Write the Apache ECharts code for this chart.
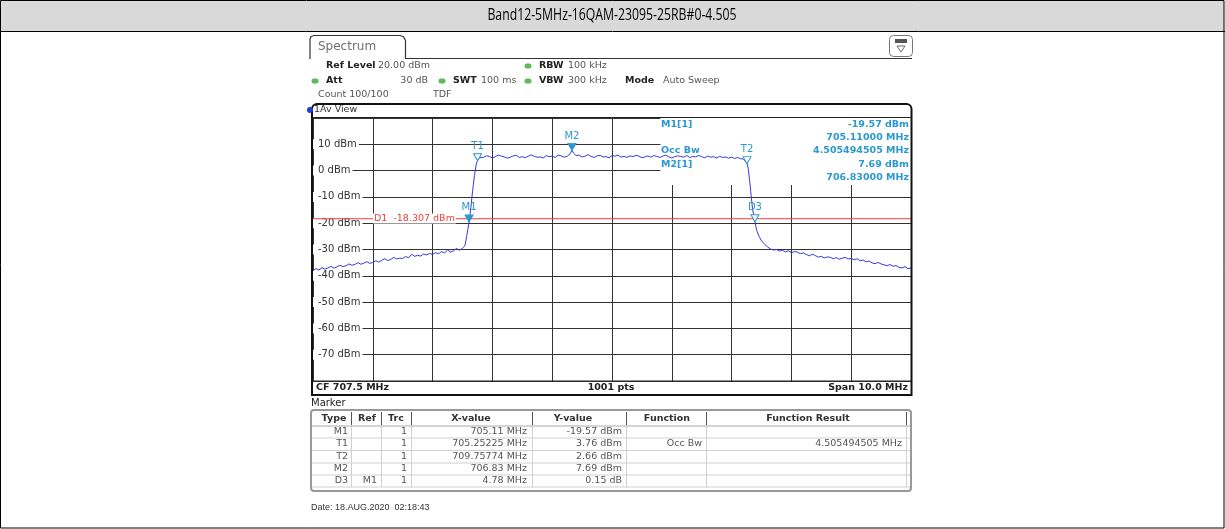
<!DOCTYPE html>
<html>
<head>
<meta charset="utf-8">
<script src="https://cdn.jsdelivr.net/npm/echarts@6/dist/echarts.min.js"></script>
<style>
  html, body { margin: 0; padding: 0; background: #fff; }
  #chart { width: 1225px; height: 529px; }
</style>
</head>
<body>
<div id="chart"></div>
<script>
// ---- data ----
const titleText = 'Band12-5MHz-16QAM-23095-25RB#0-4.505';

// trace 1 (average), frequency in MHz
const traceFreq = [
  702.50, 702.55, 702.60, 702.65, 702.70, 702.75, 702.80, 702.85, 702.90, 702.95,
  703.00, 703.05, 703.10, 703.15, 703.20, 703.25, 703.30, 703.35, 703.40, 703.45,
  703.50, 703.55, 703.60, 703.65, 703.70, 703.75, 703.80, 703.85, 703.90, 703.95,
  704.00, 704.05, 704.10, 704.15, 704.20, 704.25, 704.30, 704.35, 704.40, 704.45,
  704.50, 704.55, 704.60, 704.65, 704.70, 704.75, 704.80, 704.85, 704.90, 704.95,
  705.00, 705.04, 705.07, 705.09, 705.11, 705.14, 705.17, 705.20, 705.23, 705.25,
  705.28, 705.30,
  705.35, 705.40, 705.45, 705.50, 705.55, 705.60, 705.65, 705.70, 705.75, 705.80,
  705.85, 705.90, 705.95, 706.00, 706.05, 706.10, 706.15, 706.20, 706.25, 706.30,
  706.35, 706.40, 706.45, 706.50, 706.55, 706.60, 706.65, 706.70, 706.75, 706.80,
  706.83, 706.86, 706.90, 706.95, 707.00, 707.05, 707.10, 707.15, 707.20, 707.25,
  707.30, 707.35, 707.40, 707.45, 707.50, 707.55, 707.60, 707.65, 707.70, 707.75,
  707.80, 707.85, 707.90, 707.95, 708.00, 708.05, 708.10, 708.15, 708.20, 708.25,
  708.30, 708.35, 708.40, 708.45, 708.50, 708.55, 708.60, 708.65, 708.70, 708.75,
  708.80, 708.85, 708.90, 708.95, 709.00, 709.05, 709.10, 709.15, 709.20, 709.25,
  709.30, 709.35, 709.40, 709.45, 709.50, 709.55, 709.60, 709.65,
  709.70, 709.73, 709.76, 709.78, 709.80, 709.82, 709.85, 709.89, 709.92, 709.96,
  710.00, 710.05, 710.10, 710.15, 710.20, 710.25, 710.30, 710.35, 710.40, 710.45,
  710.50, 710.55, 710.60, 710.65, 710.70, 710.75, 710.80, 710.85, 710.90, 710.95,
  711.00, 711.05, 711.10, 711.15, 711.20, 711.25, 711.30, 711.35, 711.40, 711.45,
  711.50, 711.55, 711.60, 711.65, 711.70, 711.75, 711.80, 711.85, 711.90, 711.95,
  712.00, 712.05, 712.10, 712.15, 712.20, 712.25, 712.30, 712.35, 712.40, 712.45,
  712.50
];
// level in dBm
const traceLevel = [
  -37.9, -37.3, -37.8, -36.9, -37.5, -37.0, -36.4, -37.1, -36.6, -36.0,
  -36.5, -36.2, -35.5, -36.0, -35.7, -35.0, -35.6, -35.2, -34.6, -35.3,
  -34.9, -34.3, -34.8, -34.1, -33.5, -34.2, -33.8, -33.0, -33.6, -33.3,
  -33.4, -32.7, -33.1, -31.8, -32.6, -32.2, -32.5, -31.7, -32.1, -31.5,
  -31.9, -31.2, -31.6, -30.8, -31.3, -30.2, -31.0, -30.5, -29.6, -30.3,
  -29.5, -28.6, -25.0, -22.3, -19.57, -14.0, -7.5, -1.8, 2.4, 3.76,
  4.9, 5.4,
  5.0, 5.6, 5.4, 4.8, 5.3, 5.9, 5.5, 5.2, 4.7, 5.1,
  5.6, 5.8, 5.0, 5.3, 4.9, 5.5, 6.0, 5.4, 5.1, 5.2,
  4.8, 5.7, 5.3, 5.5, 5.0, 5.9, 5.6, 5.1, 5.4, 6.4,
  7.69, 6.6, 5.7, 5.9, 5.2, 5.5, 6.1, 5.4, 5.0, 5.6,
  5.8, 5.2, 5.3, 4.9, 5.7, 5.5, 5.9, 5.1, 5.4, 5.0,
  5.6, 5.3, 5.8, 5.5, 4.9, 5.2, 5.6, 5.1, 5.7, 5.4,
  5.0, 5.5, 5.9, 5.2, 4.8, 5.3, 5.6, 5.4, 5.1, 5.7,
  5.0, 5.4, 5.2, 5.8, 5.3, 4.9, 5.5, 5.1, 5.3, 4.8,
  5.4, 5.0, 5.2, 4.7, 5.1, 4.6, 5.0, 4.5,
  4.4, 3.8, 2.66, 0.5, -3.5, -8.0, -14.5, -19.42, -22.8, -25.0,
  -26.7, -28.0, -29.0, -29.8, -30.2, -30.0, -30.6, -30.3, -30.9, -30.5,
  -31.2, -30.8, -31.0, -31.6, -31.3, -31.9, -32.4, -31.8, -32.3, -32.9,
  -32.6, -33.2, -32.8, -33.0, -33.5, -33.1, -33.7, -33.3, -33.0, -33.6,
  -33.4, -33.9, -33.5, -34.3, -34.0, -34.7, -34.4, -35.1, -35.4, -34.9,
  -35.5, -35.8, -36.2, -35.7, -36.4, -36.1, -36.8, -37.0, -36.5, -37.3,
  -37.0
];

// markers
const markerNames = ['M1', 'T1', 'T2', 'M2', 'D3'];
const markerFreq = [705.11, 705.25225, 709.75774, 706.83, 709.89];
const markerLevel = [-19.57, 3.76, 2.66, 7.69, -19.42];
const markerHollow = [false, true, true, false, true];

const displayLine = -18.307;
const startFreq = 702.5;
const stopFreq = 712.5;
const refLevel = 20;
const bottomLevel = -80;

// marker table
const tableType = ['M1', 'T1', 'T2', 'M2', 'D3'];
const tableRef = ['', '', '', '', 'M1'];
const tableTrc = ['1', '1', '1', '1', '1'];
const tableX = ['705.11 MHz', '705.25225 MHz', '709.75774 MHz', '706.83 MHz', '4.78 MHz'];
const tableY = ['-19.57 dBm', '3.76 dBm', '2.66 dBm', '7.69 dBm', '0.15 dB'];
const tableFunc = ['', 'Occ Bw', '', '', ''];
const tableResult = ['', '4.505494505 MHz', '', '', ''];

// ---- drawing ----
const FONT = 'DejaVu Sans';
const MK = '#2b98cf';
const chart = echarts.init(document.getElementById('chart'));

function txt(x, y, text, o) {
  o = o || {};
  return {
    type: 'text', x: x, y: y, z: o.z || 20, scaleX: o.sx || 1,
    style: {
      text: text,
      fill: o.color || '#444',
      font: (o.bold ? 'bold ' : '') + (o.size || 9.5) + 'px ' + (o.family || FONT),
      align: o.align || 'left',
      verticalAlign: 'middle',
      backgroundColor: o.bg,
      padding: o.pad
    }
  };
}
function line(x1, y1, x2, y2, color, w) {
  return {
    type: 'line', z: 15,
    shape: { x1: x1, y1: y1, x2: x2, y2: y2 },
    style: { stroke: color, lineWidth: w || 1 }
  };
}
function dot(x, y, color) {
  return {
    type: 'rect', z: 20,
    shape: { x: x - 3.5, y: y - 2.5, width: 7, height: 5, r: 2.5 },
    style: { fill: color }
  };
}

const g = [];
// outer table cell with grey title row
g.push({ type: 'rect', z: 1, shape: { x: 0.5, y: 0.5, width: 1223.5, height: 31 }, style: { fill: '#d9d9d9' } });
g.push({ type: 'rect', z: 3, shape: { x: 0.5, y: 0.5, width: 1223.5, height: 527.5 }, style: { fill: 'none', stroke: '#000', lineWidth: 1 } });
g.push(line(0, 31.5, 1225, 31.5, '#000', 1));
g.push(txt(612, 16, titleText, { size: 15.5, color: '#000', align: 'center', sx: 0.79, family: "'Open Sans', sans-serif" }));

// spectrum tab
g.push({
  type: 'polyline', z: 15,
  shape: { points: [[310, 59], [310, 39], [311, 36.5], [314, 35.5], [400, 35.5], [403.5, 36.8], [405.5, 40.5], [405.5, 58.5], [912, 58.5]] },
  style: { fill: 'none', stroke: '#333', lineWidth: 1.2 }
});
g.push(txt(318, 47, 'Spectrum', { size: 12, color: '#707070' }));
// top-right icon
g.push({ type: 'rect', z: 15, shape: { x: 889.5, y: 35.5, width: 23, height: 21, r: 4 }, style: { fill: '#fff', stroke: '#777', lineWidth: 1 } });
g.push({ type: 'rect', z: 16, shape: { x: 895, y: 39, width: 12, height: 4 }, style: { fill: '#555' } });
g.push({ type: 'polygon', z: 16, shape: { points: [[897, 46], [905, 46], [901, 52]] }, style: { fill: 'none', stroke: '#666', lineWidth: 1 } });

// settings header
g.push(txt(326, 66, 'Ref Level', { bold: true, color: '#222' }));
g.push(txt(378, 66, '20.00 dBm', { color: '#555' }));
g.push(dot(528, 66, '#5fb85a'));
g.push(txt(539, 66, 'RBW', { bold: true, color: '#222' }));
g.push(txt(568, 66, '100 kHz', { color: '#555' }));
g.push(dot(315, 81, '#5fb85a'));
g.push(txt(326, 81, 'Att', { bold: true, color: '#222' }));
g.push(txt(428, 81, '30 dB', { color: '#555', align: 'right' }));
g.push(dot(442, 81, '#5fb85a'));
g.push(txt(453, 81, 'SWT', { bold: true, color: '#222' }));
g.push(txt(481, 81, '100 ms', { color: '#555' }));
g.push(dot(528, 81, '#5fb85a'));
g.push(txt(539, 81, 'VBW', { bold: true, color: '#222' }));
g.push(txt(568, 81, '300 kHz', { color: '#555' }));
g.push(txt(625, 81, 'Mode', { bold: true, color: '#222' }));
g.push(txt(663, 81, 'Auto Sweep', { color: '#555' }));
g.push(txt(318, 95, 'Count 100/100', { color: '#555' }));
g.push(txt(433, 95, 'TDF', { color: '#555' }));

// diagram frame
g.push({ type: 'rect', z: 15, shape: { x: 312, y: 104, width: 599.5, height: 291, r: [5, 5, 0, 0] }, style: { fill: 'none', stroke: '#111', lineWidth: 2 } });
g.push(line(312, 117.5, 911, 117.5, '#222', 1));
g.push({ type: 'circle', z: 20, shape: { cx: 310, cy: 110, r: 3 }, style: { fill: '#1a3fd8' } });
g.push(txt(314, 110, '1Av View', { size: 9.5, color: '#333' }));
g.push(line(312, 381, 911, 381, '#222', 1));
g.push(txt(316, 388, 'CF 707.5 MHz', { bold: true, color: '#222' }));
g.push(txt(611, 388, '1001 pts', { bold: true, color: '#222', align: 'center' }));
g.push(txt(908, 388, 'Span 10.0 MHz', { bold: true, color: '#222', align: 'right' }));

// marker info field
g.push(txt(661, 125, 'M1[1]', { bold: true, color: MK }));
g.push(txt(661, 151, 'Occ Bw', { bold: true, color: MK }));
g.push(txt(661, 165, 'M2[1]', { bold: true, color: MK }));
g.push(txt(909, 125, '-19.57 dBm', { bold: true, color: MK, align: 'right' }));
g.push(txt(909, 138, '705.11000 MHz', { bold: true, color: MK, align: 'right' }));
g.push(txt(909, 151, '4.505494505 MHz', { bold: true, color: MK, align: 'right' }));
g.push(txt(909, 165, '7.69 dBm', { bold: true, color: MK, align: 'right' }));
g.push(txt(909, 178, '706.83000 MHz', { bold: true, color: MK, align: 'right' }));

// display line label
g.push(txt(373, 218.5, 'D1  -18.307 dBm', { color: '#e8463c', bg: '#fff', pad: [0, 1] }));

// marker table
g.push(txt(311, 403, 'Marker', { size: 10, color: '#222' }));
g.push({ type: 'rect', z: 15, shape: { x: 311, y: 410, width: 600, height: 81, r: 3 }, style: { fill: 'none', stroke: '#999', lineWidth: 2 } });
const colX = [351.5, 381.5, 411.5, 532.5, 626.5, 706.5, 906.5];
colX.forEach(function (x) {
  g.push(line(x, 412, x, 425, '#555', 1));
  g.push(line(x, 426, x, 487, '#d0d0d0', 1));
});
g.push(line(312, 426, 910, 426, '#aaa', 1));
[438, 450.5, 463, 475, 487].forEach(function (y) { g.push(line(312, y, 910, y, '#d0d0d0', 1)); });
g.push(txt(334, 419, 'Type', { bold: true, color: '#333', align: 'center' }));
g.push(txt(367, 419, 'Ref', { bold: true, color: '#333', align: 'center' }));
g.push(txt(396, 419, 'Trc', { bold: true, color: '#333', align: 'center' }));
g.push(txt(471, 419, 'X-value', { bold: true, color: '#333', align: 'center' }));
g.push(txt(573, 419, 'Y-value', { bold: true, color: '#333', align: 'center' }));
g.push(txt(667, 419, 'Function', { bold: true, color: '#333', align: 'center' }));
g.push(txt(808, 419, 'Function Result', { bold: true, color: '#333', align: 'center' }));
const rowY = [432, 444, 456.5, 469, 481];
tableType.forEach(function (t, i) {
  const y = rowY[i];
  const o = { color: '#555', align: 'right' };
  g.push(txt(348, y, t, o));
  if (tableRef[i]) g.push(txt(377, y, tableRef[i], o));
  g.push(txt(407, y, tableTrc[i], o));
  g.push(txt(527, y, tableX[i], o));
  g.push(txt(622, y, tableY[i], o));
  if (tableFunc[i]) g.push(txt(702, y, tableFunc[i], o));
  if (tableResult[i]) g.push(txt(902, y, tableResult[i], o));
});

g.push(txt(311, 508, 'Date: 18.AUG.2020  02:18:43', { size: 9, color: '#333', family: "'Liberation Sans', Arial, sans-serif" }));

const option = {
  animation: false,
  backgroundColor: '#fff',
  grid: { left: 313, right: 314, top: 118, bottom: 148, show: false },
  xAxis: [
    { type: 'value', min: startFreq, max: stopFreq, show: false },
    {
      type: 'value', min: 0, max: 10, interval: 1,
      axisLine: { show: false }, axisTick: { show: false }, axisLabel: { show: false },
      splitLine: { show: true, lineStyle: { color: '#333', width: 1 } }
    }
  ],
  yAxis: {
    type: 'value', min: bottomLevel, max: refLevel, interval: 10,
    axisLine: { show: false }, axisTick: { show: false },
    splitLine: { lineStyle: { color: '#333', width: 1 } },
    axisLabel: {
      inside: true, margin: 0,
      color: '#333', fontSize: 10, fontFamily: FONT,
      backgroundColor: '#fff', padding: [0, 2, 0, 5],
      formatter: function (v) { return (v === refLevel || v === bottomLevel) ? '' : v + ' dBm'; }
    }
  },
  series: [
    {
      // blank area behind the marker info field
      type: 'line', xAxisIndex: 0, data: [], silent: true,
      markArea: {
        silent: true,
        itemStyle: { color: '#fff' },
        data: [[{ xAxis: 708.31, yAxis: refLevel }, { xAxis: stopFreq, yAxis: -5.5 }]]
      }
    },
    {
      // display line D1
      name: 'D1', type: 'line', xAxisIndex: 0, z: 2, silent: true,
      data: [[startFreq, displayLine], [stopFreq, displayLine]],
      showSymbol: false,
      lineStyle: { color: '#ff3b3b', width: 1 }
    },
    {
      name: 'Trace 1',
      type: 'line', xAxisIndex: 0, z: 3,
      data: traceFreq.map(function (f, i) { return [f, traceLevel[i]]; }),
      showSymbol: false,
      lineStyle: { color: '#3838dc', width: 1 },
      markPoint: {
        silent: true,
        data: markerNames.map(function (n, i) {
          return {
            name: n,
            coord: [markerFreq[i], markerLevel[i]],
            symbol: 'triangle', symbolRotate: 180, symbolSize: [8, 7], symbolOffset: [0, -3.5],
            itemStyle: { color: markerHollow[i] ? '#fff' : MK, borderColor: MK, borderWidth: 1 },
            label: { show: true, position: 'top', distance: 2, formatter: n, color: MK, fontSize: 10, fontFamily: FONT }
          };
        })
      }
    }
  ],
  graphic: g
};
chart.setOption(option);
</script>
</body>
</html>
